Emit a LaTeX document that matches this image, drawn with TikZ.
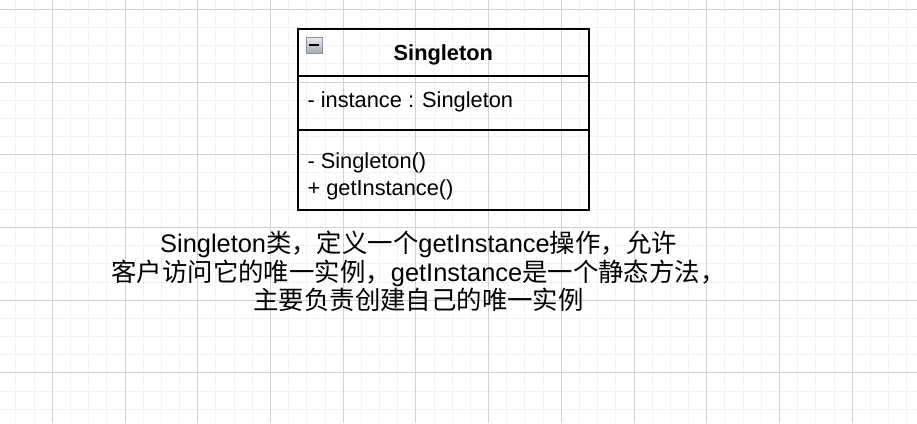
\documentclass[tikz,border=0pt]{standalone}
\usepackage{fontspec}
\setmainfont{Liberation Sans}
\newfontfamily\cjk{Noto Sans CJK SC}
\newcommand\zh[1]{{\cjk #1}}
\definecolor{gridmajor}{RGB}{208,208,208}
\definecolor{gridminor}{RGB}{242,242,242}
\definecolor{iconborder}{RGB}{138,146,160}
\definecolor{icontop}{RGB}{236,236,238}
\definecolor{iconbottom}{RGB}{168,170,176}
\begin{document}
\begin{tikzpicture}[x=1pt,y=-1pt,
  minorline/.style={draw=gridminor, line width=1pt},
  majorline/.style={draw=gridmajor, line width=1pt},
  umlbox/.style={draw=black, line width=2pt},
  umltext/.style={anchor=base west, inner sep=0pt, font=\fontsize{21.8}{26.2}\selectfont},
  umltitle/.style={anchor=base, inner sep=0pt, font=\fontsize{21.8}{26.2}\selectfont\bfseries},
  desctext/.style={anchor=base, align=center, inner sep=0pt, font=\fontsize{25.4}{28.5}\selectfont}]
\useasboundingbox (0,0) rectangle (917,423);
\fill[white] (0,0) rectangle (917,423);
% grid
\foreach \i in {0,...,49} {
  \pgfmathsetmacro\xx{15.95+18.18*\i}
  \draw[minorline] (\xx,0) -- (\xx,423);
}
\foreach \i in {0,...,23} {
  \pgfmathsetmacro\yy{9.3+18.18*\i}
  \draw[minorline] (0,\yy) -- (917,\yy);
}
\foreach \i in {0,...,11} {
  \pgfmathsetmacro\xx{52.3+72.72*\i}
  \draw[majorline] (\xx,0) -- (\xx,423);
}
\foreach \i in {0,...,5} {
  \pgfmathsetmacro\yy{9.3+72.72*\i}
  \draw[majorline] (0,\yy) -- (917,\yy);
}
% class box
\draw[umlbox] (297.5,28.5) rectangle (589,210);
\draw[umlbox] (297.5,75.5) -- (589,75.5);
\draw[umlbox] (297.5,130) -- (589,130);
% collapse icon
\shade[top color=icontop, bottom color=iconbottom, draw=iconborder, line width=0.9pt] (306,37) rectangle (322.5,53);
\draw[black, line width=2pt] (309.3,44.8) -- (319.3,44.8);
% texts
\node[umltitle] (title) at (443.3,60) {Singleton};
\node[umltext] (attr) at (307.3,107.5) {- instance : Singleton};
\node[umltext] (ctor) at (307.3,168.5) {- Singleton()};
\node[umltext] (getter) at (307.3,195) {+ getInstance()};
\node[desctext] (desc) at (418.5,309.5) {Singleton\zh{类，定义一个}getInstance\zh{操作，允许}\\
\zh{客户访问它的唯一实例，}getInstance\zh{是一个静态方法，}\\
\zh{主要负责创建自己的唯一实例}};
\end{tikzpicture}
\end{document}
